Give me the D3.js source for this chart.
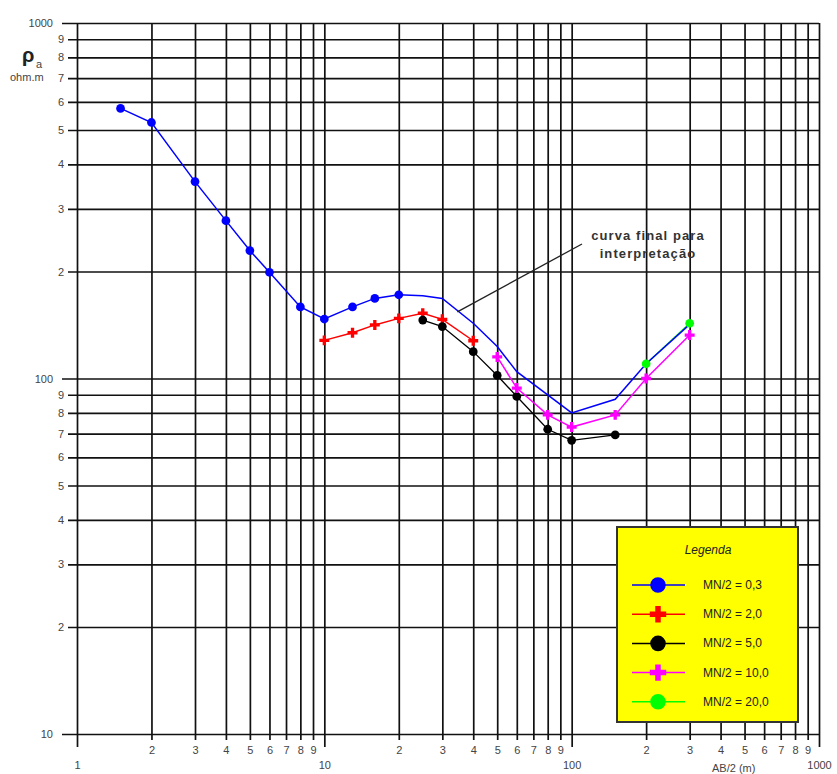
<!DOCTYPE html>
<html>
<head>
<meta charset="utf-8">
<script src="https://cdn.jsdelivr.net/npm/d3@7"></script>
<style>
  body { margin: 0; background: #fff; }
  svg { display: block; font-family: "Liberation Sans", Arial, sans-serif; }
</style>
</head>
<body>
<div id="wrapper"></div>
<script>
// measured points, AB/2 (m) vs apparent resistivity (ohm.m)
const abBlue = [1.5, 2, 3, 4, 5, 6, 8, 10, 13, 16, 20];
const rhoBlue = [575, 525, 358, 278, 229, 199, 159, 147, 159, 168, 172];

const abRed = [10, 13, 16, 20, 25, 30, 40];
const rhoRed = [128, 134.5, 141.5, 147.6, 152.6, 146.7, 127.7];

const abBlack = [25, 30, 40, 50, 60, 80, 100, 150];
const rhoBlack = [146, 140, 119, 102, 89, 72, 67, 69.4];

const abMagenta = [50, 60, 80, 100, 150, 200, 300];
const rhoMagenta = [115, 94, 79, 73, 79, 100, 132.5];

const abGreen = [200, 300];
const rhoGreen = [110, 143];

// final curve (no markers) continuing the blue one
const abFinal = [20, 25, 30, 40, 50, 60, 100, 150, 200, 300];
const rhoFinal = [172, 171, 168, 143, 123, 104.5, 80, 87.4, 110, 142];

const legendLabels = ["MN/2 = 0,3", "MN/2 = 2,0", "MN/2 = 5,0", "MN/2 = 10,0", "MN/2 = 20,0"];

const xTickValues = [];
[1, 10, 100].forEach((d) => { for (let k = 1; k <= 9; k++) xTickValues.push(k * d); });
xTickValues.push(1000);
const yTickValues = [];
[10, 100].forEach((d) => { for (let k = 1; k <= 9; k++) yTickValues.push(k * d); });
yTickValues.push(1000);

const isMajor = (d) => [1, 10, 100, 1000].includes(d);
const leadDigit = (d) => String(Math.round(d / Math.pow(10, Math.floor(Math.log10(d) + 1e-9))));

const drawChart = () => {
  const width = 837;
  const height = 774;
  const margin = { top: 23, right: 18, bottom: 40, left: 77 };
  const boundedWidth = width - margin.left - margin.right;
  const boundedHeight = height - margin.top - margin.bottom;

  const svg = d3.select("#wrapper").append("svg")
    .attr("width", width)
    .attr("height", height);

  const bounds = svg.append("g")
    .attr("transform", `translate(${margin.left},${margin.top})`);

  const xScale = d3.scaleLog().domain([1, 1000]).range([0, boundedWidth]);
  const yScale = d3.scaleLog().domain([10, 1000]).range([boundedHeight, 0]);

  // x axis + vertical grid
  const xAxis = bounds.append("g")
    .attr("transform", `translate(0,${boundedHeight})`)
    .call(d3.axisBottom(xScale)
      .tickValues(xTickValues)
      .tickSizeOuter(0)
      .tickFormat((d) => isMajor(d) ? String(d) : leadDigit(d)));
  xAxis.select(".domain").remove();
  xAxis.selectAll(".tick line")
    .attr("y1", -boundedHeight)
    .attr("y2", (d) => isMajor(d) ? 13 : 6)
    .attr("stroke", "#111")
    .attr("stroke-width", 1.7);
  xAxis.selectAll(".tick text")
    .attr("y", (d) => isMajor(d) ? 35 : 20)
    .attr("dy", 0)
    .attr("fill", "#444")
    .style("font-size", "11px")
    .style("font-family", "Liberation Sans, Arial, sans-serif");

  // y axis + horizontal grid
  const yAxis = bounds.append("g")
    .call(d3.axisLeft(yScale)
      .tickValues(yTickValues)
      .tickSizeOuter(0)
      .tickFormat((d) => isMajor(d) ? String(d) : leadDigit(d)));
  yAxis.select(".domain").remove();
  yAxis.selectAll(".tick line")
    .attr("x1", boundedWidth)
    .attr("x2", (d) => isMajor(d) ? -15 : -9)
    .attr("stroke", "#111")
    .attr("stroke-width", 1.7);
  yAxis.selectAll(".tick text")
    .attr("x", (d) => isMajor(d) ? -24 : -13)
    .attr("fill", "#444")
    .style("font-size", "11px")
    .style("font-family", "Liberation Sans, Arial, sans-serif");

  // axis titles
  svg.append("text")
    .attr("x", 22).attr("y", 62)
    .style("font-size", "20px").style("font-weight", "bold")
    .attr("fill", "#222")
    .text("ρ");
  svg.append("text")
    .attr("x", 36).attr("y", 68)
    .style("font-size", "11px")
    .attr("fill", "#444")
    .text("a");
  svg.append("text")
    .attr("x", 10).attr("y", 81)
    .style("font-size", "11px")
    .attr("fill", "#444")
    .text("ohm.m");
  svg.append("text")
    .attr("x", 712).attr("y", 772)
    .style("font-size", "11px")
    .attr("fill", "#444")
    .text("AB/2 (m)");

  const lineGen = d3.line()
    .x((d) => xScale(d[0]))
    .y((d) => yScale(d[1]));

  const zip = (xs, ys) => xs.map((v, i) => [v, ys[i]]);

  const series = [
    { data: zip(abRed, rhoRed), color: "#ff0000", symbol: d3.symbolCross, width: 1.5 },
    { data: zip(abBlack, rhoBlack), color: "#000000", symbol: d3.symbolCircle, width: 1.3 },
    { data: zip(abMagenta, rhoMagenta), color: "#ff00ff", symbol: d3.symbolCross, width: 1.5 },
    { data: zip(abGreen, rhoGreen), color: "#00ff00", symbol: d3.symbolCircle, width: 1.3 },
    { data: zip(abBlue, rhoBlue), color: "#0000ff", symbol: d3.symbolCircle, width: 1.5 },
  ];

  series.forEach((s) => {
    bounds.append("path")
      .datum(s.data)
      .attr("d", lineGen)
      .attr("fill", "none")
      .attr("stroke", s.color)
      .attr("stroke-width", s.width);
  });

  bounds.append("path")
    .datum(zip(abFinal, rhoFinal))
    .attr("d", lineGen)
    .attr("fill", "none")
    .attr("stroke", "#0000ff")
    .attr("stroke-width", 1.5);

  series.forEach((s) => {
    bounds.selectAll(null)
      .data(s.data)
      .join("path")
      .attr("transform", (d) => `translate(${xScale(d[0])},${yScale(d[1])})`)
      .attr("d", d3.symbol().type(s.symbol).size(s.symbol === d3.symbolCross ? 55 : 60))
      .attr("fill", s.color);
  });

  // annotation
  const tip = [34.5, 154];
  svg.append("line")
    .attr("x1", 582).attr("y1", 244)
    .attr("x2", margin.left + xScale(tip[0]))
    .attr("y2", margin.top + yScale(tip[1]))
    .attr("stroke", "#222")
    .attr("stroke-width", 1.3);
  const note = svg.append("text")
    .attr("text-anchor", "middle")
    .style("font-size", "13px")
    .style("font-weight", "bold")
    .style("letter-spacing", "1.1px")
    .attr("fill", "#333");
  note.append("tspan").attr("x", 648).attr("y", 240).text("curva final para");
  note.append("tspan").attr("x", 648).attr("y", 258).text("interpretação");

  // legend
  const legend = svg.append("g").attr("transform", "translate(617,527)");
  legend.append("rect")
    .attr("width", 181).attr("height", 195)
    .attr("fill", "#ffff00")
    .attr("stroke", "#333")
    .attr("stroke-width", 2);
  legend.append("text")
    .attr("x", 91).attr("y", 27)
    .attr("text-anchor", "middle")
    .style("font-size", "12px")
    .style("font-style", "italic")
    .attr("fill", "#222")
    .text("Legenda");

  const legendItems = [series[4], series[0], series[1], series[2], series[3]];
  legendItems.forEach((s, i) => {
    const row = legend.append("g").attr("transform", `translate(0,${58 + i * 29.2})`);
    row.append("line")
      .attr("x1", 15).attr("x2", 68)
      .attr("stroke", s.color).attr("stroke-width", 1.5);
    row.append("path")
      .attr("transform", "translate(41,0)")
      .attr("d", d3.symbol().type(s.symbol).size(s.symbol === d3.symbolCross ? 150 : 190))
      .attr("fill", s.color);
    row.append("text")
      .attr("x", 86).attr("y", 4)
      .style("font-size", "12px")
      .attr("fill", "#222")
      .text(legendLabels[i]);
  });
};

drawChart();
</script>
</body>
</html>
